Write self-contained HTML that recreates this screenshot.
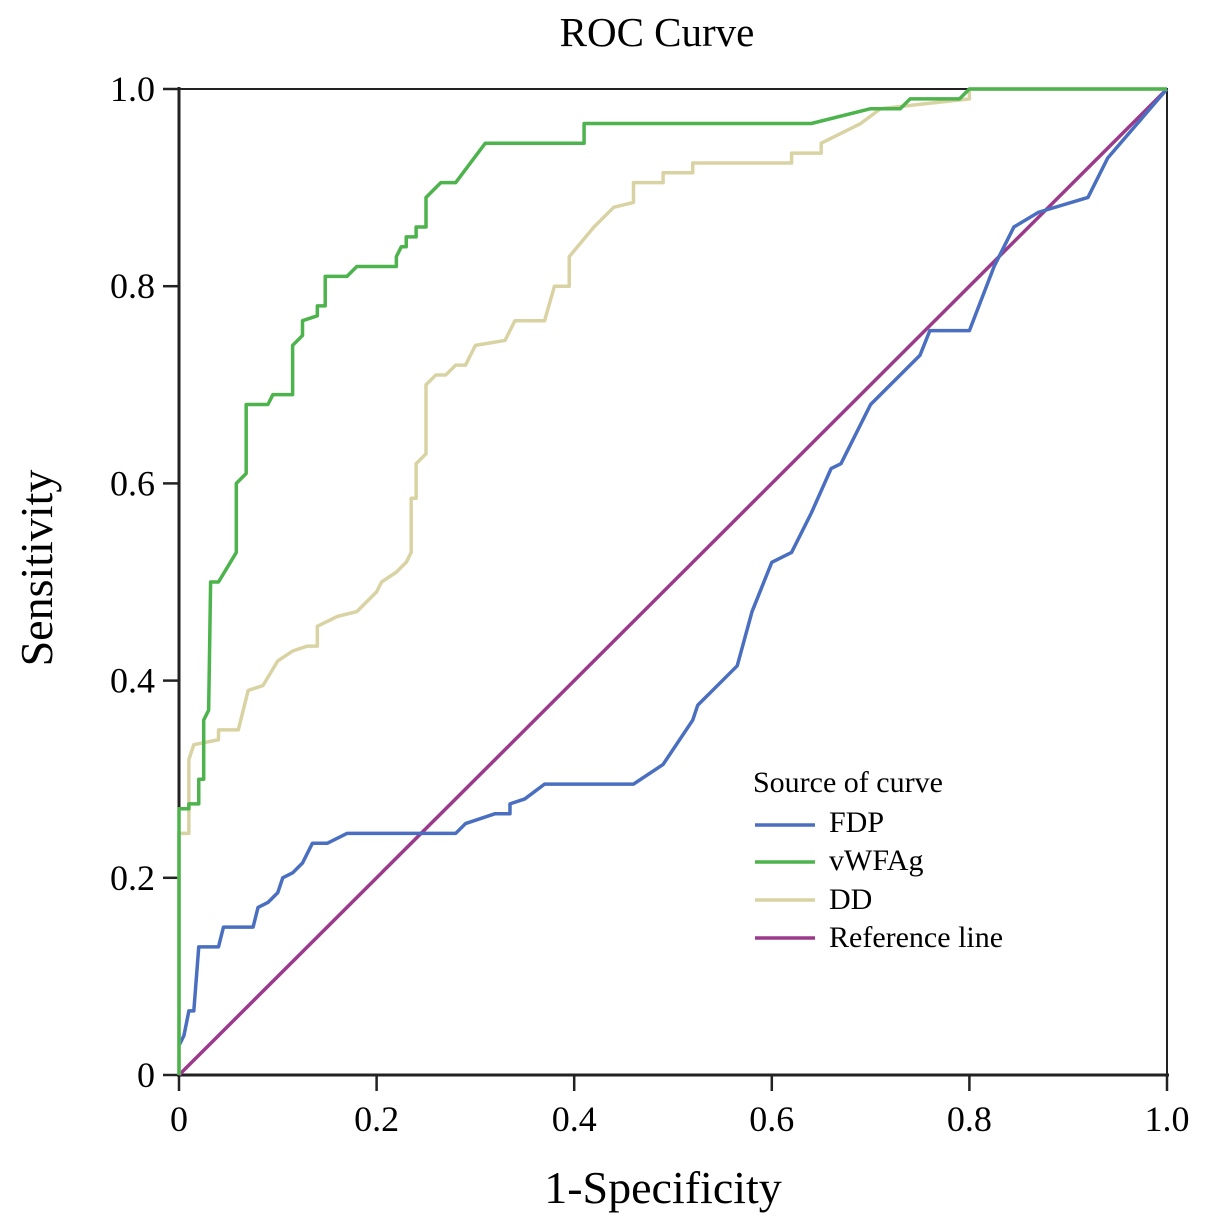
<!DOCTYPE html>
<html><head><meta charset="utf-8"><style>
body{margin:0;background:#fff;}
svg{display:block;font-family:"Liberation Serif",serif;}
</style></head><body>
<svg id="chart" width="1205" height="1225">
<text x="657" y="46" font-size="41" text-anchor="middle">ROC Curve</text>
<text x="663" y="1203" font-size="46" text-anchor="middle">1-Specificity</text>
<text transform="translate(52,568) rotate(-90)" font-size="46" text-anchor="middle">Sensitivity</text>
<rect x="179" y="89" width="988" height="986" fill="none" stroke="#222" stroke-width="2"/>
<line x1="179" y1="87" x2="179" y2="1077" stroke="#222" stroke-width="3"/>
<line x1="177" y1="1075" x2="1169" y2="1075" stroke="#222" stroke-width="3"/>
<g id="axes"></g>
<g id="series"></g>
<g>
<text x="753" y="792" font-size="30">Source of curve</text>
<line x1="755" y1="825" x2="815" y2="825" stroke="#4a6fc0" stroke-width="3.5"/>
<text x="829" y="832" font-size="30">FDP</text>
<line x1="755" y1="862" x2="815" y2="862" stroke="#4db34d" stroke-width="3.5"/>
<text x="829" y="870" font-size="30">vWFAg</text>
<line x1="755" y1="900" x2="815" y2="900" stroke="#d9d3a3" stroke-width="3.5"/>
<text x="829" y="909" font-size="30">DD</text>
<line x1="755" y1="938" x2="815" y2="938" stroke="#9b3a8b" stroke-width="3.5"/>
<text x="829" y="947" font-size="30">Reference line</text>
</g>
</svg>
<script>
const xTicks=[0,0.2,0.4,0.6,0.8,1.0];
const xTickLabels=["0","0.2","0.4","0.6","0.8","1.0"];
const yTicks=[0,0.2,0.4,0.6,0.8,1.0];
const yTickLabels=["0","0.2","0.4","0.6","0.8","1.0"];
const vwfX=[0,0,0.01,0.01,0.02,0.02,0.025,0.025,0.03,0.032,0.04,0.058,0.058,0.068,0.068,0.09,0.095,0.115,0.115,0.125,0.125,0.14,0.14,0.148,0.148,0.17,0.18,0.22,0.22,0.225,0.23,0.23,0.24,0.24,0.25,0.25,0.265,0.28,0.31,0.41,0.41,0.64,0.7,0.73,0.74,0.79,0.8,1];
const vwfY=[0,0.27,0.27,0.275,0.275,0.3,0.3,0.36,0.37,0.5,0.5,0.53,0.6,0.61,0.68,0.68,0.69,0.69,0.74,0.75,0.765,0.77,0.78,0.78,0.81,0.81,0.82,0.82,0.83,0.84,0.84,0.85,0.85,0.86,0.86,0.89,0.905,0.905,0.945,0.945,0.965,0.965,0.98,0.98,0.99,0.99,1,1];
const ddX=[0,0,0.01,0.01,0.015,0.04,0.04,0.06,0.07,0.085,0.1,0.115,0.13,0.14,0.14,0.15,0.16,0.18,0.19,0.2,0.205,0.22,0.23,0.235,0.235,0.24,0.24,0.25,0.25,0.26,0.27,0.28,0.29,0.3,0.33,0.34,0.37,0.38,0.395,0.395,0.42,0.44,0.46,0.46,0.49,0.49,0.52,0.52,0.62,0.62,0.65,0.65,0.69,0.71,0.8,0.8,1];
const ddY=[0,0.245,0.245,0.32,0.335,0.34,0.35,0.35,0.39,0.395,0.42,0.43,0.435,0.435,0.455,0.46,0.465,0.47,0.48,0.49,0.5,0.51,0.52,0.53,0.585,0.585,0.62,0.63,0.7,0.71,0.71,0.72,0.72,0.74,0.745,0.765,0.765,0.8,0.8,0.83,0.86,0.88,0.885,0.905,0.905,0.915,0.915,0.925,0.925,0.935,0.935,0.945,0.965,0.98,0.99,1,1];
const fdpX=[0,0.005,0.01,0.015,0.02,0.04,0.045,0.075,0.08,0.09,0.1,0.105,0.115,0.125,0.135,0.15,0.17,0.28,0.29,0.32,0.335,0.335,0.35,0.37,0.46,0.49,0.52,0.525,0.565,0.58,0.6,0.62,0.64,0.66,0.67,0.7,0.71,0.75,0.76,0.8,0.825,0.845,0.87,0.92,0.94,1];
const fdpY=[0.03,0.04,0.065,0.065,0.13,0.13,0.15,0.15,0.17,0.175,0.185,0.2,0.205,0.215,0.235,0.235,0.245,0.245,0.255,0.265,0.265,0.275,0.28,0.295,0.295,0.315,0.36,0.375,0.415,0.47,0.52,0.53,0.57,0.615,0.62,0.68,0.69,0.73,0.755,0.755,0.82,0.86,0.875,0.89,0.93,1];
const refX=[0,1];
const refY=[0,1];
const NS="http://www.w3.org/2000/svg";
const sx=v=>179+v*988;
const sy=v=>1075-v*986;
const axes=document.getElementById('axes');
xTicks.forEach((t,i)=>{
 const l=document.createElementNS(NS,'line');
 l.setAttribute('x1',sx(t));l.setAttribute('x2',sx(t));l.setAttribute('y1',1075);l.setAttribute('y2',1091);
 l.setAttribute('stroke','#222');l.setAttribute('stroke-width','2.5');
 
 
 axes.appendChild(l);
 const tx=document.createElementNS(NS,'text');
 tx.setAttribute('x',sx(t));tx.setAttribute('y',1131);tx.setAttribute('font-size','36');tx.setAttribute('text-anchor','middle');
 tx.textContent=xTickLabels[i];
 
 
 axes.appendChild(tx);
});
yTicks.forEach((t,i)=>{
 const l=document.createElementNS(NS,'line');
 l.setAttribute('x1',163);l.setAttribute('x2',179);l.setAttribute('y1',sy(t));l.setAttribute('y2',sy(t));
 l.setAttribute('stroke','#222');l.setAttribute('stroke-width','2.5');
 
 
 axes.appendChild(l);
 const tx=document.createElementNS(NS,'text');
 tx.setAttribute('x',155);tx.setAttribute('y',sy(t)+12);tx.setAttribute('font-size','36');tx.setAttribute('text-anchor','end');
 tx.textContent=yTickLabels[i];
 
 
 axes.appendChild(tx);
});
const g=document.getElementById('series');
function draw(xs,ys,color,name){
 const p=document.createElementNS(NS,'polyline');
 p.setAttribute('points',xs.map((x,i)=>sx(x)+','+sy(ys[i])).join(' '));
 p.setAttribute('fill','none');p.setAttribute('stroke',color);p.setAttribute('stroke-width','3.5');
 p.setAttribute('stroke-linejoin','round');
 
 
 g.appendChild(p);
}
draw(refX,refY,'#9b3a8b','reference-line');
draw(fdpX,fdpY,'#4a6fc0','fdp-curve');
draw(ddX,ddY,'#d9d3a3','dd-curve');
draw(vwfX,vwfY,'#4db34d','vwfag-curve');
</script>
</body></html>
